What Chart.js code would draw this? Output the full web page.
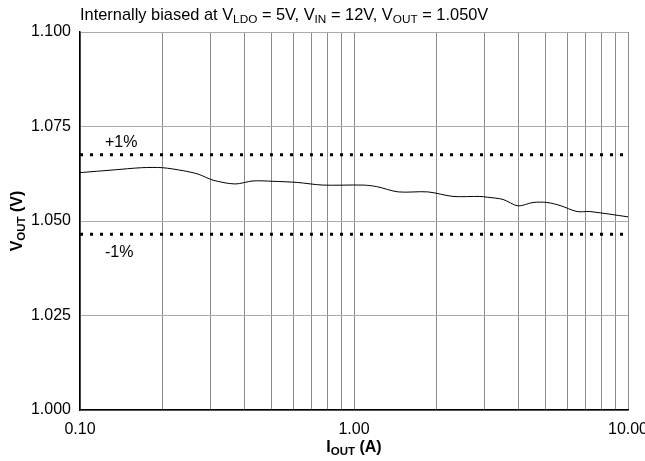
<!DOCTYPE html>
<html>
  <head>
    <title>VOUT vs IOUT</title>
    <script src="https://cdn.jsdelivr.net/npm/chart.js"></script>
    <style>
      body { margin: 0; background: #fff; }
    </style>
  </head>
  <body>
    <canvas id="voutChart" width="645" height="461"></canvas>

    <script>
      // Load current (A) and output voltage (V)
      const currentA = [0.1, 0.132, 0.168, 0.2, 0.238, 0.27, 0.306, 0.368, 0.428, 0.506, 0.62, 0.77,
        1.08, 1.21, 1.45, 1.86, 2.3, 2.88, 3.06, 3.5, 3.97, 4.5, 5.06, 5.65, 6.52, 7.26, 10];
      const voutV = [1.0628, 1.0635, 1.0641, 1.0641, 1.0633, 1.0624, 1.0608, 1.0598, 1.0606, 1.0605, 1.0602, 1.0595,
        1.0595, 1.0591, 1.0577, 1.0577, 1.0565, 1.0565, 1.0563, 1.0557, 1.054, 1.0549, 1.0549, 1.0541, 1.0525, 1.0525, 1.0511];
      // tolerance band levels
      const plusOnePct = 1.0675;
      const minusOnePct = 1.0465;
      const xRange = [0.1, 10];
      const xGridValues = [0.1, 0.2, 0.3, 0.4, 0.5, 0.6, 0.7, 0.8, 0.9, 1, 2, 3, 4, 5, 6, 7, 8, 9, 10];
      const xLabelValues = [0.1, 1, 10];
      const yTicks = [1.0, 1.025, 1.05, 1.075, 1.1];

      const FONT = "Arial, 'Liberation Sans', sans-serif";
      const SIZE = 16;

      // draws a run of [text, isSubscript] pieces starting at x
      function drawPieces(ctx, pieces, x, y, size, bold) {
        const w = bold ? "bold " : "";
        pieces.forEach(([t, sub]) => {
          ctx.font = w + (sub ? (size * 0.72).toFixed(1) : size) + "px " + FONT;
          ctx.fillText(t, x, sub ? y + 3 : y);
          x += ctx.measureText(t).width;
        });
        return x;
      }
      function piecesWidth(ctx, pieces, size, bold) {
        const w = bold ? "bold " : "";
        let total = 0;
        pieces.forEach(([t, sub]) => {
          ctx.font = w + (sub ? (size * 0.72).toFixed(1) : size) + "px " + FONT;
          total += ctx.measureText(t).width;
        });
        return total;
      }

      const textPlugin = {
        id: "labels",
        afterDraw(chart) {
          const ctx = chart.ctx;
          const area = chart.chartArea;
          const y = chart.scales.y;
          ctx.save();
          ctx.fillStyle = "#000";
          ctx.textBaseline = "alphabetic";
          ctx.textAlign = "left";

          // title
          drawPieces(ctx, [["Internally biased at V", 0], ["LDO", 1], [" = 5V, V", 0], ["IN", 1],
            [" = 12V, V", 0], ["OUT", 1], [" = 1.050V", 0]], area.left, 20, 16.4, false);

          // band labels
          ctx.font = SIZE + "px " + FONT;
          ctx.fillText("+1%", area.left + 25, y.getPixelForValue(plusOnePct) - 8);
          ctx.fillText("-1%", area.left + 25, y.getPixelForValue(minusOnePct) + 23);

          // x title
          const xt = [["I", 0], ["OUT", 1], [" (A)", 0]];
          const xw = piecesWidth(ctx, xt, SIZE, true);
          drawPieces(ctx, xt, (area.left + area.right) / 2 - xw / 2, 452, SIZE, true);

          // y title
          const yt = [["V", 0], ["OUT", 1], [" (V)", 0]];
          const yw = piecesWidth(ctx, yt, SIZE, true);
          ctx.translate(22, (area.top + area.bottom) / 2);
          ctx.rotate(-Math.PI / 2);
          drawPieces(ctx, yt, -yw / 2, 0, SIZE, true);
          ctx.restore();
        },
      };

      const bandLine = (level) => ({
        data: xRange.map((x) => ({ x: x, y: level })),
        borderColor: "#000",
        borderWidth: 3,
        borderDash: [3, 7],
        pointRadius: 0,
        showLine: true,
      });

      new Chart(document.getElementById("voutChart").getContext("2d"), {
        type: "scatter",
        data: {
          datasets: [
            {
              data: currentA.map((x, i) => ({ x: x, y: voutV[i] })),
              borderColor: "#000",
              borderWidth: 1,
              pointRadius: 0,
              showLine: true,
              tension: 0.3,
            },
            bandLine(plusOnePct),
            bandLine(minusOnePct),
          ],
        },
        options: {
          responsive: false,
          animation: false,
          devicePixelRatio: 1,
          layout: { padding: { top: 32, right: 17, left: 0, bottom: 0 } },
          plugins: { legend: { display: false }, tooltip: { enabled: false } },
          scales: {
            x: {
              type: "logarithmic",
              min: xRange[0],
              max: xRange[1],
              afterBuildTicks: (s) => { s.ticks = xGridValues.map((v) => ({ value: v })); },
              afterFit: (s) => { s.height = 51; s.paddingLeft = 0; s.paddingRight = 0; },
              border: { color: "#000", width: 1.5 },
              grid: { color: "#8c8c8c", lineWidth: 1, drawTicks: false },
              ticks: {
                autoSkip: false,
                maxRotation: 0,
                padding: 10,
                color: "#000",
                font: { size: SIZE, family: FONT },
                callback: (v) => (xLabelValues.includes(v) ? v.toFixed(2) : ""),
              },
            },
            y: {
              min: 1.0,
              max: 1.1,
              afterBuildTicks: (s) => { s.ticks = yTicks.map((v) => ({ value: v })); },
              afterFit: (s) => { s.width = 80; s.paddingTop = 0; s.paddingBottom = 0; },
              border: { color: "#000", width: 1.5 },
              grid: { color: "#aaaaaa", lineWidth: 1, drawTicks: false },
              ticks: {
                padding: 9,
                color: "#000",
                font: { size: SIZE, family: FONT },
                callback: (v) => v.toFixed(3),
              },
            },
          },
        },
        plugins: [textPlugin],
      });
    </script>
  </body>
</html>
